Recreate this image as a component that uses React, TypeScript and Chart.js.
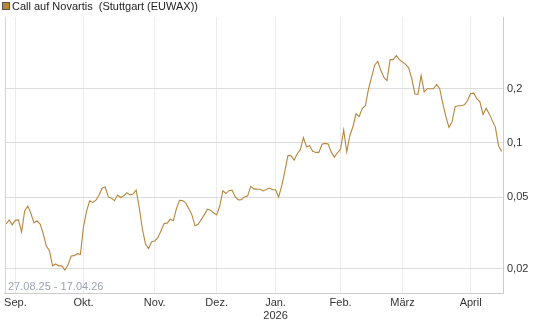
import React, { useEffect, useRef } from "react";
import { Chart, registerables } from "chart.js";

Chart.register(...registerables);

const seriesName = "Call auf Novartis  (Stuttgart (EUWAX))";
const dateRange = "27.08.25 - 17.04.26";

// one value per trading day, 27.08.25 .. 17.04.26
const values = [
  0.0355, 0.0374, 0.0351, 0.0372, 0.0374, 0.0321, 0.042, 0.0446, 0.0407, 0.036,
  0.037, 0.0355, 0.0313, 0.0268, 0.0252, 0.0208, 0.0213, 0.0208, 0.0208, 0.0197,
  0.021, 0.0236, 0.0237, 0.0243, 0.0241, 0.0343, 0.042, 0.0478, 0.0468, 0.0481,
  0.0512, 0.0561, 0.0569, 0.0502, 0.0494, 0.0478, 0.0514, 0.0498, 0.0509, 0.053,
  0.0515, 0.052, 0.0548, 0.0436, 0.0334, 0.0275, 0.0259, 0.0283, 0.0286, 0.0298,
  0.0325, 0.0357, 0.0359, 0.0377, 0.037, 0.0432, 0.048, 0.0479, 0.0465, 0.0432,
  0.0399, 0.0347, 0.0354, 0.0376, 0.0399, 0.0429, 0.0423, 0.041, 0.0399, 0.0448,
  0.0542, 0.0524, 0.0545, 0.0546, 0.0502, 0.0483, 0.0484, 0.0502, 0.0509, 0.0574,
  0.0556, 0.0554, 0.0553, 0.0542, 0.0551, 0.0562, 0.0551, 0.055, 0.0501, 0.0578,
  0.0696, 0.085, 0.085, 0.0802, 0.0872, 0.0918, 0.107, 0.0953, 0.0966, 0.09,
  0.0886, 0.0886, 0.0985, 0.0995, 0.0987, 0.0889, 0.0834, 0.0882, 0.0923, 0.118,
  0.0893, 0.11, 0.123, 0.145, 0.14, 0.155, 0.161, 0.198, 0.231, 0.27,
  0.284, 0.253, 0.231, 0.222, 0.29, 0.29, 0.305, 0.29, 0.281, 0.273,
  0.261, 0.227, 0.187, 0.186, 0.237, 0.192, 0.2, 0.2, 0.2, 0.211,
  0.2, 0.166, 0.14, 0.122, 0.131, 0.159, 0.161, 0.161, 0.163, 0.172,
  0.188, 0.189, 0.176, 0.169, 0.144, 0.156, 0.145, 0.133, 0.122, 0.0966, 0.0898,
];

// index of the first trading day of each month
const monthTickIndex = [3, 25, 48, 68, 87, 108, 128, 150];
const monthLabels = ["Sep.", "Okt.", "Nov.", "Dez.", "Jan.", "Feb.", "März", "April"];
const yearLabels = ["", "", "", "", "2026", "", "", ""];
const yTicks = [0.02, 0.05, 0.1, 0.2];

const FONT = "Arial, 'Liberation Sans', sans-serif";
const LINE_COLOR = "#b8863b";

export default function App() {
  const ref = useRef<HTMLCanvasElement | null>(null);

  useEffect(() => {
    document.body.style.margin = "0";
    const canvas = ref.current;
    if (!canvas) return;

    const overlay = {
      id: "overlay",
      afterDraw(chart: any) {
        const ctx = chart.ctx;
        const ca = chart.chartArea;
        ctx.save();
        // left border
        ctx.strokeStyle = "#d4d4d4";
        ctx.lineWidth = 1;
        ctx.beginPath();
        ctx.moveTo(Math.round(ca.left) + 0.5, ca.top);
        ctx.lineTo(Math.round(ca.left) + 0.5, ca.bottom);
        ctx.stroke();
        // legend
        ctx.fillStyle = LINE_COLOR;
        ctx.fillRect(2, 2, 8, 8);
        ctx.strokeStyle = "#555";
        ctx.strokeRect(2.5, 2.5, 7, 7);
        ctx.font = "11px " + FONT;
        ctx.fillStyle = "#222";
        ctx.textBaseline = "middle";
        ctx.textAlign = "left";
        ctx.fillText(seriesName, 12, 6.5);
        // date range
        ctx.fillStyle = "#9ca4b4";
        ctx.fillText(dateRange, 8, 287);
        ctx.restore();
      },
    };

    const chart = new Chart(canvas, {
      type: "line",
      data: {
        datasets: [
          {
            label: seriesName,
            data: values.map((v, i) => ({ x: i, y: v })),
            borderColor: LINE_COLOR,
            borderWidth: 1.1,
            pointRadius: 0,
            tension: 0,
            fill: false,
          },
        ],
      },
      options: {
        animation: false,
        responsive: false,
        maintainAspectRatio: false,
        layout: { padding: { left: 3, top: 17, right: 0, bottom: 0 } },
        plugins: {
          legend: { display: false },
          tooltip: { enabled: false },
        },
        scales: {
          x: {
            type: "linear",
            bounds: "data",
            min: -0.42,
            max: 160.45,
            afterBuildTicks: (scale: any) => {
              scale.ticks = monthTickIndex.map((v) => ({ value: v }));
            },
            afterFit: (scale: any) => {
              scale.height = 34;
            },
            ticks: {
              autoSkip: false,
              maxRotation: 0,
              padding: 4,
              color: "#333",
              font: { family: FONT, size: 11, lineHeight: 1.12 },
              callback: (_v: any, idx: number) =>
                yearLabels[idx] ? [monthLabels[idx], yearLabels[idx]] : monthLabels[idx],
            },
            grid: { color: "#ececec", drawTicks: false },
            border: { display: true, color: "#cccccc" },
          },
          y: {
            type: "logarithmic",
            position: "right",
            bounds: "data",
            min: 0.0147,
            max: 0.5,
            afterBuildTicks: (scale: any) => {
              scale.ticks = yTicks.map((v) => ({ value: v }));
            },
            afterFit: (scale: any) => {
              scale.width = 42;
            },
            ticks: {
              autoSkip: false,
              padding: 4,
              color: "#333",
              font: { family: FONT, size: 11 },
              callback: (v: any) => String(v).replace(".", ","),
            },
            grid: { color: "#dcdcdc", drawTicks: false },
            border: { display: true, color: "#cccccc" },
          },
        },
      },
      plugins: [overlay],
    });

    return () => chart.destroy();
  }, []);

  return (
    <div style={{ width: 545, height: 327 }}>
      <canvas ref={ref} width={545} height={327} style={{ width: 545, height: 327, display: "block" }} />
    </div>
  );
}
